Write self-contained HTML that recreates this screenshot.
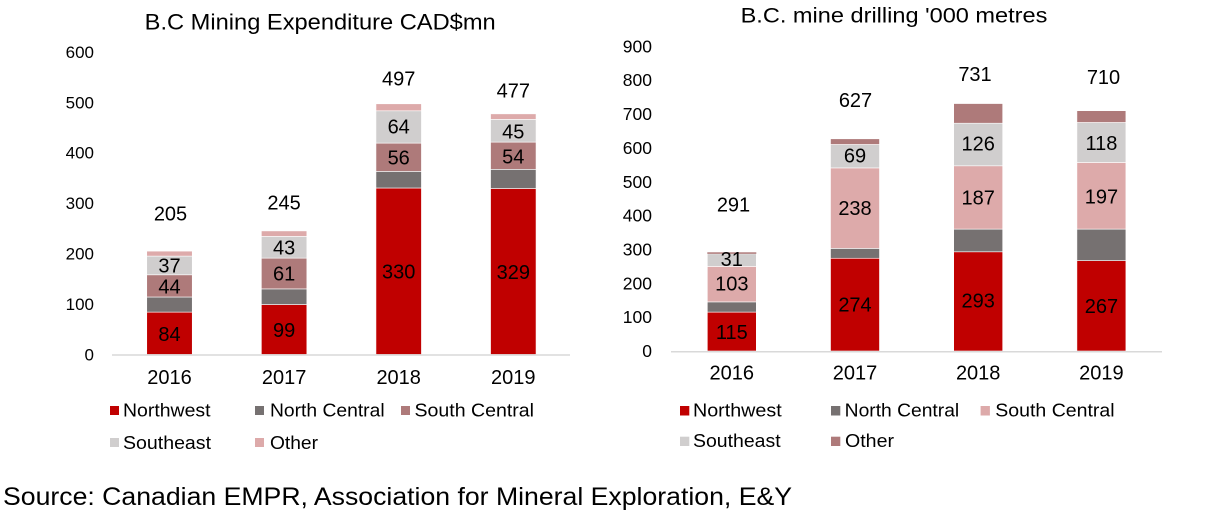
<!DOCTYPE html>
<html>
<head>
<meta charset="utf-8">
<style>
html,body{margin:0;padding:0;background:#fff;}
svg{display:block;}
text{font-family:"Liberation Sans",Arial,Helvetica,sans-serif;fill:#000;}
</style>
</head>
<body>
<svg width="1209" height="514" viewBox="0 0 1209 514" xmlns="http://www.w3.org/2000/svg">
<rect width="1209" height="514" fill="#fff"/>

<!-- ================= LEFT CHART ================= -->
<text x="144.7" y="29.3" font-size="22" textLength="351" lengthAdjust="spacingAndGlyphs">B.C Mining Expenditure CAD$mn</text>

<g font-size="17" text-anchor="end">
<text x="94" y="360.5">0</text>
<text x="94" y="310">100</text>
<text x="94" y="259.6">200</text>
<text x="94" y="209.2">300</text>
<text x="94" y="158.7">400</text>
<text x="94" y="108.3">500</text>
<text x="94" y="57.8">600</text>
</g>

<g stroke="#fff" stroke-width="0.6">
<!-- 2016 -->
<rect x="146.75" y="312.1" width="45.5" height="42.4" fill="#C00000"/>
<rect x="146.75" y="297.0" width="45.5" height="15.1" fill="#767171"/>
<rect x="146.75" y="274.8" width="45.5" height="22.2" fill="#AE7A7A"/>
<rect x="146.75" y="256.1" width="45.5" height="18.7" fill="#D0CECE"/>
<rect x="146.75" y="251.1" width="45.5" height="5.0" fill="#DDAAAA"/>
<!-- 2017 -->
<rect x="261.35" y="304.55" width="45.5" height="49.95" fill="#C00000"/>
<rect x="261.35" y="288.9" width="45.5" height="15.65" fill="#767171"/>
<rect x="261.35" y="258.1" width="45.5" height="30.8" fill="#AE7A7A"/>
<rect x="261.35" y="236.45" width="45.5" height="21.65" fill="#D0CECE"/>
<rect x="261.35" y="230.9" width="45.5" height="5.55" fill="#DDAAAA"/>
<!-- 2018 -->
<rect x="375.95" y="188.0" width="45.5" height="166.5" fill="#C00000"/>
<rect x="375.95" y="171.4" width="45.5" height="16.6" fill="#767171"/>
<rect x="375.95" y="143.1" width="45.5" height="28.3" fill="#AE7A7A"/>
<rect x="375.95" y="110.8" width="45.5" height="32.3" fill="#D0CECE"/>
<rect x="375.95" y="103.8" width="45.5" height="7.0" fill="#DDAAAA"/>
<!-- 2019 -->
<rect x="490.55" y="188.5" width="45.5" height="166" fill="#C00000"/>
<rect x="490.55" y="169.35" width="45.5" height="19.15" fill="#767171"/>
<rect x="490.55" y="142.1" width="45.5" height="27.25" fill="#AE7A7A"/>
<rect x="490.55" y="119.4" width="45.5" height="22.7" fill="#D0CECE"/>
<rect x="490.55" y="113.85" width="45.5" height="5.55" fill="#DDAAAA"/>
</g>

<line x1="112" y1="355" x2="570" y2="355" stroke="#D9D9D9" stroke-width="1.5"/>

<g font-size="20" text-anchor="middle">
<text x="169.5" y="340.8">84</text>
<text x="169.5" y="293.5">44</text>
<text x="169.5" y="272.3">37</text>
<text x="284.1" y="337">99</text>
<text x="284.1" y="280.6">61</text>
<text x="284.1" y="254.4">43</text>
<text x="398.7" y="278.6">330</text>
<text x="398.7" y="164.4">56</text>
<text x="398.7" y="133.6">64</text>
<text x="513.3" y="278.8">329</text>
<text x="513.3" y="163.5">54</text>
<text x="513.3" y="138.5">45</text>

<text x="170.5" y="220.3">205</text>
<text x="284.1" y="209.3">245</text>
<text x="398.7" y="85.3">497</text>
<text x="513.3" y="97.7">477</text>

<text x="169.5" y="384">2016</text>
<text x="284.1" y="384">2017</text>
<text x="398.7" y="384">2018</text>
<text x="513.3" y="384">2019</text>
</g>

<!-- left legend -->
<rect x="110" y="406" width="9" height="9" fill="#C00000"/>
<rect x="255" y="406" width="9" height="9" fill="#767171"/>
<rect x="401" y="406" width="9" height="9" fill="#AE7A7A"/>
<rect x="110" y="438" width="9" height="9" fill="#D0CECE"/>
<rect x="255" y="438" width="9" height="9" fill="#DDAAAA"/>
<g font-size="18">
<text x="123" y="416.5" textLength="87.5" lengthAdjust="spacingAndGlyphs">Northwest</text>
<text x="270" y="416.5" textLength="114.6" lengthAdjust="spacingAndGlyphs">North Central</text>
<text x="414.5" y="416.5" textLength="119.5" lengthAdjust="spacingAndGlyphs">South Central</text>
<text x="123" y="449" textLength="88" lengthAdjust="spacingAndGlyphs">Southeast</text>
<text x="270" y="449" textLength="48" lengthAdjust="spacingAndGlyphs">Other</text>
</g>

<!-- ================= RIGHT CHART ================= -->
<text x="740.6" y="22.7" font-size="21" textLength="306.8" lengthAdjust="spacingAndGlyphs">B.C. mine drilling '000 metres</text>

<g font-size="17.5" text-anchor="end">
<text x="652" y="357">0</text>
<text x="652" y="323.2">100</text>
<text x="652" y="289.3">200</text>
<text x="652" y="255.5">300</text>
<text x="652" y="221.6">400</text>
<text x="652" y="187.8">500</text>
<text x="652" y="153.9">600</text>
<text x="652" y="120.1">700</text>
<text x="652" y="86.2">800</text>
<text x="652" y="52.4">900</text>
</g>

<g stroke="#fff" stroke-width="0.6">
<!-- 2016 -->
<rect x="707.3" y="312.1" width="49" height="38.9" fill="#C00000"/>
<rect x="707.3" y="301.9" width="49" height="10.2" fill="#767171"/>
<rect x="707.3" y="266.4" width="49" height="35.5" fill="#DDAAAA"/>
<rect x="707.3" y="253.85" width="49" height="12.55" fill="#D0CECE"/>
<rect x="707.3" y="252.3" width="49" height="1.55" fill="#AE7A7A" stroke="none"/>
<!-- 2017 -->
<rect x="830.5" y="258.25" width="49" height="92.75" fill="#C00000"/>
<rect x="830.5" y="248.4" width="49" height="9.85" fill="#767171"/>
<rect x="830.5" y="167.9" width="49" height="80.5" fill="#DDAAAA"/>
<rect x="830.5" y="144.5" width="49" height="23.4" fill="#D0CECE"/>
<rect x="830.5" y="138.8" width="49" height="5.7" fill="#AE7A7A"/>
<!-- 2018 -->
<rect x="953.7" y="251.8" width="49" height="99.2" fill="#C00000"/>
<rect x="953.7" y="229.1" width="49" height="22.7" fill="#767171"/>
<rect x="953.7" y="165.8" width="49" height="63.3" fill="#DDAAAA"/>
<rect x="953.7" y="123.2" width="49" height="42.6" fill="#D0CECE"/>
<rect x="953.7" y="103.55" width="49" height="19.65" fill="#AE7A7A"/>
<!-- 2019 -->
<rect x="1076.9" y="260.6" width="49" height="90.4" fill="#C00000"/>
<rect x="1076.9" y="229.1" width="49" height="31.5" fill="#767171"/>
<rect x="1076.9" y="162.45" width="49" height="66.65" fill="#DDAAAA"/>
<rect x="1076.9" y="122.5" width="49" height="39.95" fill="#D0CECE"/>
<rect x="1076.9" y="110.7" width="49" height="11.8" fill="#AE7A7A"/>
</g>

<line x1="671" y1="351.7" x2="1162" y2="351.7" stroke="#D9D9D9" stroke-width="1.5"/>

<g font-size="20" text-anchor="middle">
<text x="731.8" y="338.8">115</text>
<text x="731.8" y="290.5">103</text>
<text x="731.8" y="266.2">31</text>
<text x="855" y="311.5">274</text>
<text x="855" y="214.8">238</text>
<text x="855" y="162.5">69</text>
<text x="978.2" y="307.5">293</text>
<text x="978.2" y="204.3">187</text>
<text x="978.2" y="150.5">126</text>
<text x="1101.4" y="313">267</text>
<text x="1101.4" y="203.5">197</text>
<text x="1101.4" y="150">118</text>

<text x="733.5" y="211.4">291</text>
<text x="855.5" y="107.1">627</text>
<text x="975" y="81.1">731</text>
<text x="1103.5" y="83.8">710</text>

<text x="731.8" y="379.3">2016</text>
<text x="855" y="379.3">2017</text>
<text x="978.2" y="379.3">2018</text>
<text x="1101.4" y="379.3">2019</text>
</g>

<!-- right legend -->
<rect x="680" y="406" width="9.3" height="9.5" fill="#C00000"/>
<rect x="831" y="406" width="9.3" height="9.5" fill="#767171"/>
<rect x="980.6" y="406" width="9.3" height="9.5" fill="#DDAAAA"/>
<rect x="680" y="436.7" width="9.3" height="9.3" fill="#D0CECE"/>
<rect x="831" y="436.7" width="9.3" height="9.3" fill="#AE7A7A"/>
<g font-size="18">
<text x="693" y="416.3" textLength="88.7" lengthAdjust="spacingAndGlyphs">Northwest</text>
<text x="844.7" y="416.3" textLength="114.5" lengthAdjust="spacingAndGlyphs">North Central</text>
<text x="995.3" y="416.3" textLength="119.3" lengthAdjust="spacingAndGlyphs">South Central</text>
<text x="693" y="447" textLength="87.6" lengthAdjust="spacingAndGlyphs">Southeast</text>
<text x="845" y="447" textLength="49" lengthAdjust="spacingAndGlyphs">Other</text>
</g>

<!-- source -->
<text x="3" y="505" font-size="25" textLength="789" lengthAdjust="spacingAndGlyphs">Source: Canadian EMPR, Association for Mineral Exploration, E&amp;Y</text>
</svg>
</body>
</html>
